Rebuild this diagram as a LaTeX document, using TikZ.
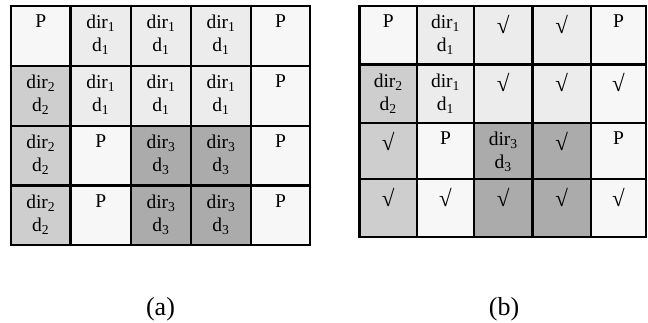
\documentclass[tikz,border=0pt]{standalone}
\usepackage{fontspec}
\setmainfont{Liberation Serif}

% cell shades
\definecolor{cW}{RGB}{247,247,247}
\definecolor{cA}{RGB}{236,236,236}
\definecolor{cB}{RGB}{206,206,206}
\definecolor{cC}{RGB}{171,171,171}

% cell contents
\newcommand\Dc[1]{dir\textsubscript{#1}\\d\textsubscript{#1}}
\newcommand\Ck{{\fontsize{23}{23}\selectfont √}}

% one row of cells: #1 grid name, #2 row index, #3 top, #4 bottom,
% #5 list of left/right/shade/content
\newcommand\cellrow[5]{%
  \foreach \xa/\xb/\cf/\ct [count=\i] in {#5} {
    \fill[\cf] (\xa,#3) rectangle (\xb,#4);
    \node[cell text] (#1-#2-\i) at ({(\xa+\xb)/2},#3+9) {\ct};
  }}

\begin{document}
\begin{tikzpicture}[x=1pt,y=-1pt,
  cell text/.style={anchor=north,inner sep=0pt,align=center,
    font=\fontsize{19.5}{23}\selectfont},
  gline/.style={line width=2.8pt,line cap=rect,black},
  caption/.style={inner sep=0pt,font=\fontsize{26}{30}\selectfont}]
\useasboundingbox (0,0) rectangle (648,322);

% ---- grid (a) ----
\cellrow{a}{1}{6}{66}{11/70.5/cW/P, 70.5/131/cA/\Dc{1}, 131/191/cA/\Dc{1}, 191/251/cA/\Dc{1}, 251/310/cW/P}
\cellrow{a}{2}{66}{126}{11/70.5/cB/\Dc{2}, 70.5/131/cA/\Dc{1}, 131/191/cA/\Dc{1}, 191/251/cA/\Dc{1}, 251/310/cW/P}
\cellrow{a}{3}{126}{185.5}{11/70.5/cB/\Dc{2}, 70.5/131/cW/P, 131/191/cC/\Dc{3}, 191/251/cC/\Dc{3}, 251/310/cW/P}
\cellrow{a}{4}{185.5}{245}{11/70.5/cB/\Dc{2}, 70.5/131/cW/P, 131/191/cC/\Dc{3}, 191/251/cC/\Dc{3}, 251/310/cW/P}
\foreach \x in {11,70.5,131,191,251,310} \draw[gline] (\x,6) -- (\x,245);
\foreach \y in {6,66,126,185.5,245} \draw[gline] (11,\y) -- (310,\y);

% ---- grid (b) ----
\cellrow{b}{1}{6}{64.5}{359.5/417/cW/P, 417/474/cA/\Dc{1}, 474/532.5/cA/\Ck, 532.5/591/cA/\Ck, 591/646/cW/P}
\cellrow{b}{2}{64.5}{123}{359.5/417/cB/\Dc{2}, 417/474/cA/\Dc{1}, 474/532.5/cA/\Ck, 532.5/591/cA/\Ck, 591/646/cW/\Ck}
\cellrow{b}{3}{123}{179}{359.5/417/cB/\Ck, 417/474/cW/P, 474/532.5/cC/\Dc{3}, 532.5/591/cC/\Ck, 591/646/cW/P}
\cellrow{b}{4}{179}{237}{359.5/417/cB/\Ck, 417/474/cW/\Ck, 474/532.5/cC/\Ck, 532.5/591/cC/\Ck, 591/646/cW/\Ck}
\foreach \x in {359.5,417,474,532.5,591,646} \draw[gline] (\x,6) -- (\x,237);
\foreach \y in {6,64.5,123,179,237} \draw[gline] (359.5,\y) -- (646,\y);

% ---- captions ----
\node[caption] (capa) at (160.5,309) {(a)};
\node[caption] (capb) at (504,309) {(b)};
\end{tikzpicture}
\end{document}
